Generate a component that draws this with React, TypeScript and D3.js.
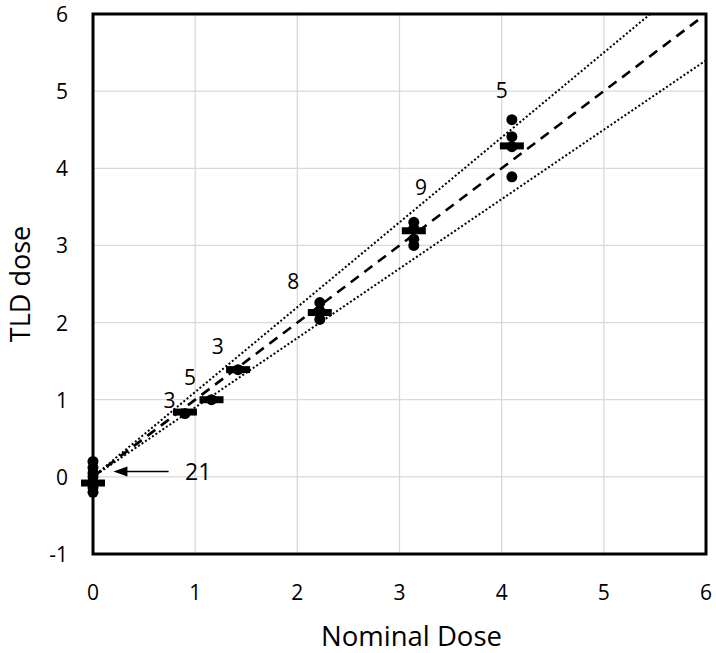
import React from "react";
import * as d3 from "d3";

const xTicks = [0, 1, 2, 3, 4, 5, 6];
const yTicks = [-1, 0, 1, 2, 3, 4, 5, 6];

// individual TLD readings
const pointX = [0, 0, 0, 0, 0, 0, 0, 0.9, 1.16, 1.42, 2.22, 2.22, 2.22, 3.14, 3.14, 3.14, 3.14, 4.1, 4.1, 4.1, 4.1];
const pointY = [0.2, 0.12, 0.05, 0, -0.07, -0.14, -0.2, 0.82, 1.0, 1.39, 2.26, 2.15, 2.04, 3.3, 3.22, 3.08, 3.0, 4.63, 4.41, 4.28, 3.89];

// group means
const meanX = [0, 0.9, 1.16, 1.42, 2.22, 3.14, 4.1];
const meanY = [-0.08, 0.84, 1.0, 1.39, 2.13, 3.19, 4.29];

// number of readings per group
const labelText = ["3", "5", "3", "8", "9", "5"];
const labelX = [0.75, 0.95, 1.22, 1.96, 3.21, 4.0];
const labelY = [1.0, 1.3, 1.7, 2.54, 3.76, 5.02];

const noteText = "21";
const noteX = 1.03;
const noteY = 0.07;
const arrowFromX = 0.74;
const arrowToX = 0.2;
const arrowY = 0.07;

const upperSlope = 1.1;
const lowerSlope = 0.9;

export default function App() {
  const W = 716, H = 653;
  const left = 93, right = 706, top = 14, bottom = 554;
  const x = d3.scaleLinear().domain([0, 6]).range([left, right]);
  const y = d3.scaleLinear().domain([-1, 6]).range([bottom, top]);
  const line = d3.line<[number, number]>().x(d => x(d[0])).y(d => y(d[1]));
  const font = "'Open Sans', Lato, sans-serif";

  const ax = x(arrowToX), ay = y(arrowY);

  return (
    <svg width={W} height={H} style={{ position: "absolute", left: 0, top: 0, background: "#fff" }} fontFamily={font}>
      <defs>
        <clipPath id="plot">
          <rect x={left} y={top} width={right - left} height={bottom - top} />
        </clipPath>
      </defs>
      {xTicks.map(t => (
        <line key={"gx" + t} x1={x(t)} x2={x(t)} y1={top} y2={bottom} stroke="#d9d9d9" strokeWidth={1.3} />
      ))}
      {yTicks.map(t => (
        <line key={"gy" + t} x1={left} x2={right} y1={y(t)} y2={y(t)} stroke="#d9d9d9" strokeWidth={1.3} />
      ))}
      <g clipPath="url(#plot)">
        <path d={line([[0, 0], [6, 6 * upperSlope]]) || ""} stroke="#000" strokeWidth={2} strokeDasharray="2 2.2" fill="none" />
        <path d={line([[0, 0], [6, 6 * lowerSlope]]) || ""} stroke="#000" strokeWidth={2} strokeDasharray="2 2.2" fill="none" />
        <path d={line([[0, 0], [5.95, 5.95]]) || ""} stroke="#000" strokeWidth={2.6} strokeDasharray="10 7" fill="none" />
      </g>
      {pointX.map((px, i) => (
        <circle key={"p" + i} cx={x(px)} cy={y(pointY[i])} r={5.5} fill="#000" />
      ))}
      {meanX.map((mx, i) => (
        <rect key={"m" + i} x={x(mx) - 12} y={y(meanY[i]) - 3.5} width={24} height={7} fill="#000" />
      ))}
      <rect x={left} y={top} width={right - left} height={bottom - top} fill="none" stroke="#000" strokeWidth={3} />
      {xTicks.map(t => (
        <text key={"tx" + t} x={x(t)} y={592} textAnchor="middle" dominantBaseline="central" fontSize={21}>{t}</text>
      ))}
      {yTicks.map(t => (
        <text key={"ty" + t} x={68} y={y(t)} textAnchor="end" dominantBaseline="central" fontSize={21}>{t}</text>
      ))}
      {labelText.map((s, i) => (
        <text key={"l" + i} x={x(labelX[i])} y={y(labelY[i])} textAnchor="middle" dominantBaseline="central" fontSize={21}>{s}</text>
      ))}
      <text x={x(noteX)} y={y(noteY)} textAnchor="middle" dominantBaseline="central" fontSize={23}>{noteText}</text>
      <line x1={x(arrowFromX)} x2={ax + 12} y1={ay} y2={ay} stroke="#000" strokeWidth={1.5} />
      <path d={`M${ax},${ay} L${ax + 14},${ay - 5} L${ax + 14},${ay + 5} Z`} fill="#000" />
      <text x={(left + right) / 2 + 12} y={646} textAnchor="middle" fontSize={27.5}>Nominal Dose</text>
      <text transform={`translate(30,${284}) rotate(-90)`} textAnchor="middle" fontSize={27}>TLD dose</text>
    </svg>
  );
}
